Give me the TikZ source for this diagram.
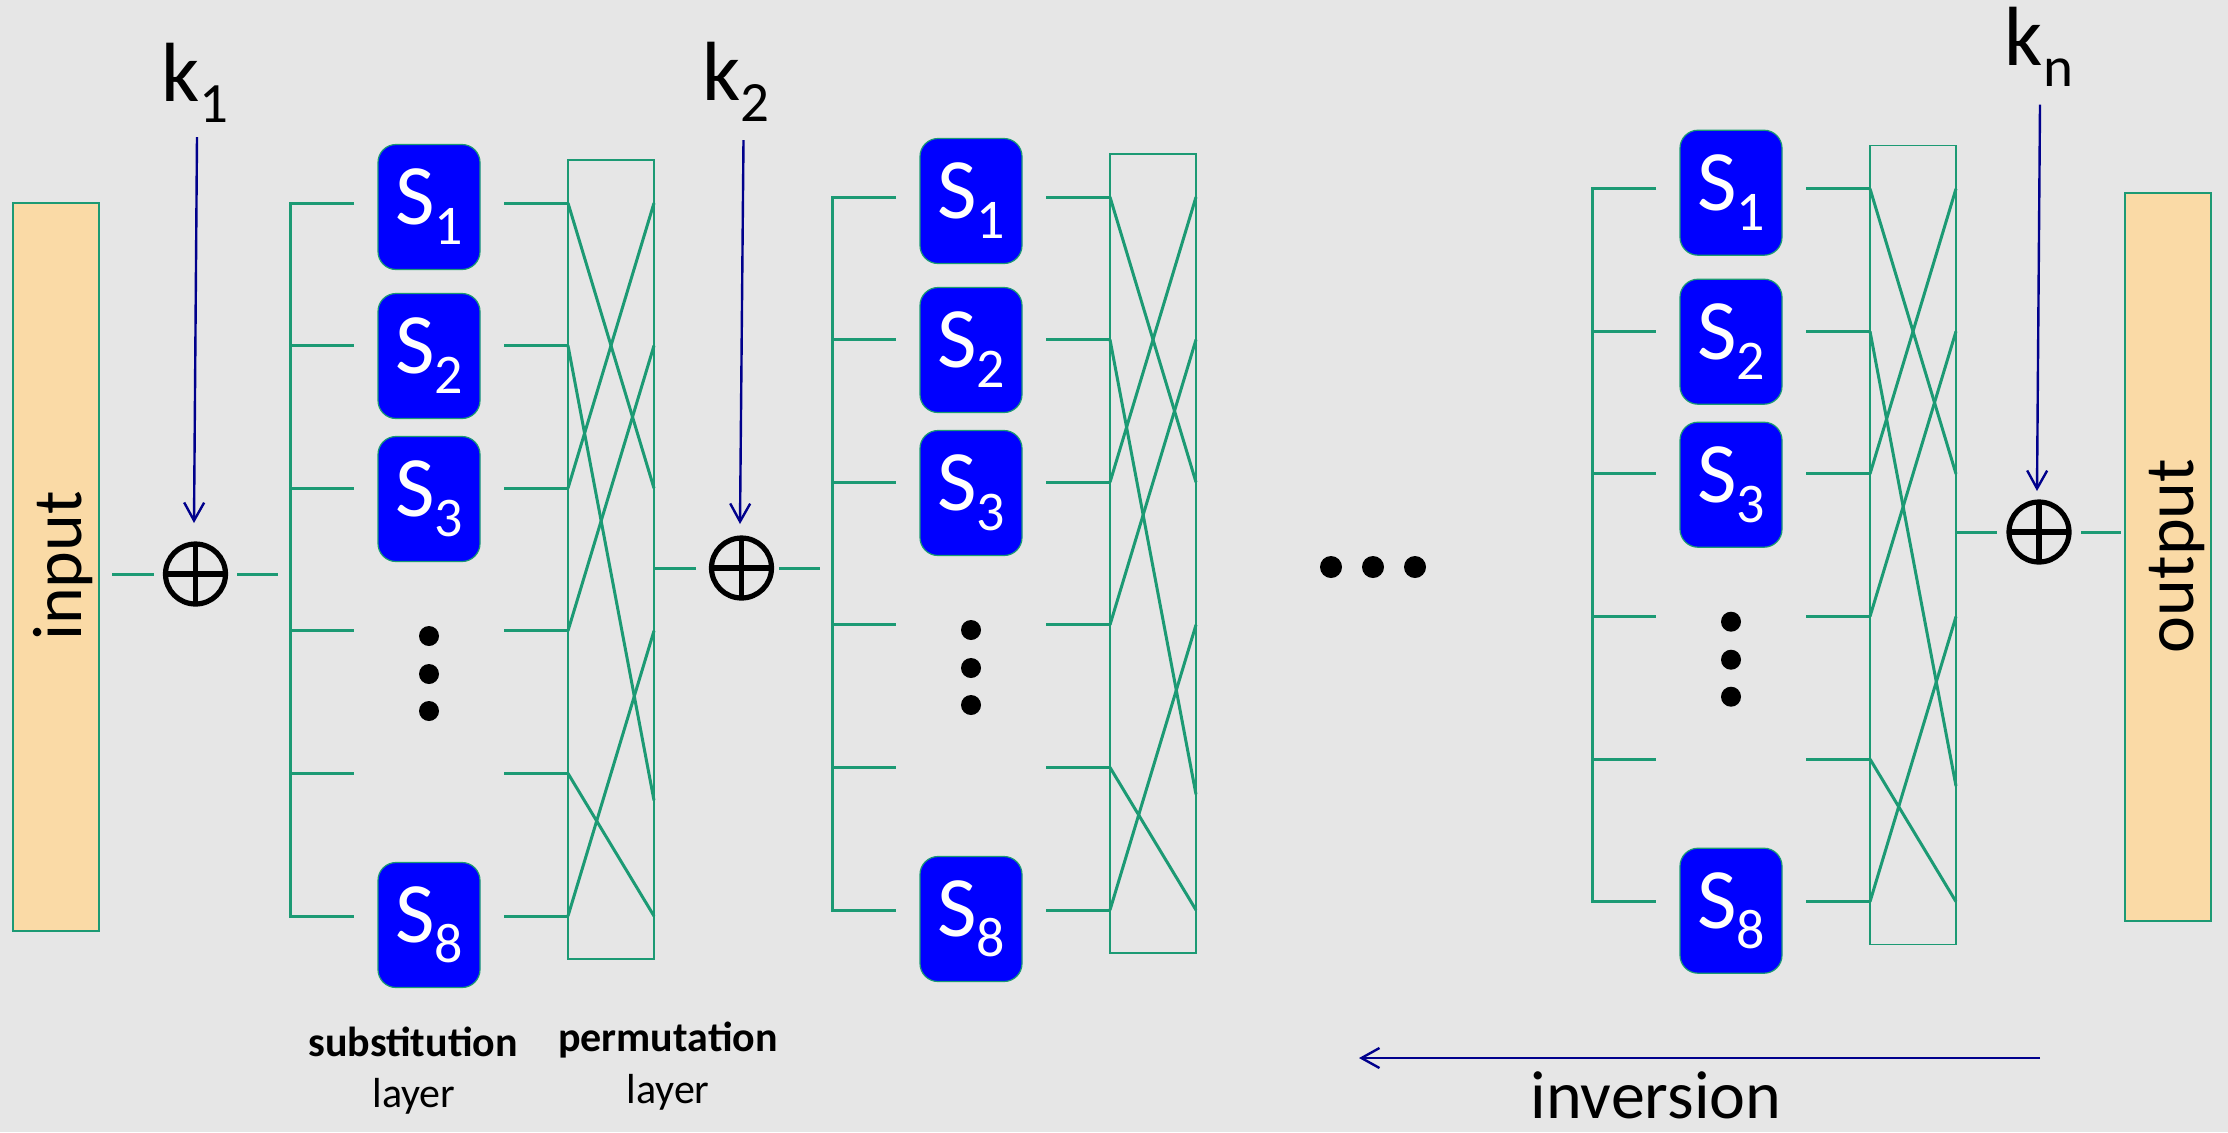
\documentclass[tikz,border=0pt]{standalone}
\usepackage{fontspec}
\setmainfont{Carlito}
\usetikzlibrary{arrows.meta}
\definecolor{bgcol}{RGB}{230,230,230}
\definecolor{wirecol}{RGB}{28,154,116}
\definecolor{sblue}{RGB}{0,0,255}
\definecolor{iofill}{RGB}{250,218,166}
\definecolor{keyblue}{RGB}{0,0,140}
\newcommand{\Slab}[1]{S\raisebox{-10pt}{\fontsize{28}{28}\selectfont #1}}
\newcommand{\Ksub}[1]{k\raisebox{-10.5pt}{\fontsize{28.5}{28.5}\selectfont #1}}
\newcommand{\spnblock}[3]{%
  \foreach \i in {1,...,6}{%
    \pgfmathsetmacro{\ry}{#3+142.6*(\i-1)}%
    \coordinate (#1bus\i) at (#2,\ry);
    \coordinate (#1in\i) at (#2+64,\ry);
    \coordinate (#1out\i) at (#2+214,\ry);
    \coordinate (#1pl\i) at (#2+278,\ry);
    \coordinate (#1pr\i) at (#2+364,\ry);
    \draw[wire] (#1out\i) -- (#1pl\i);
  }
  \draw[wire] (#1in1) -- (#1bus1) -- (#1bus6) -- (#1in6);
  \foreach \i in {2,...,5}{\draw[wire] (#1bus\i) -- (#1in\i);}
  \node[permbox] (#1perm) at (#2+321,#3+356.5) {};
  \coordinate (#1t) at (#2+364,#3+142.6*4+27);
  \draw[wire] (#1pl1) -- (#1pr3);
  \draw[wire] (#1pl2) -- (#1t);
  \draw[wire] (#1pl3) -- (#1pr1);
  \draw[wire] (#1pl4) -- (#1pr2);
  \draw[wire] (#1pl5) -- (#1pr6);
  \draw[wire] (#1pl6) -- (#1pr4);
  \node[sbox] (#1s1) at (#2+139,#3+4) {\Slab{1}};
  \node[sbox] (#1s2) at (#2+139,#3+153) {\Slab{2}};
  \node[sbox] (#1s3) at (#2+139,#3+296) {\Slab{3}};
  \node[sbox] (#1s8) at (#2+139,#3+722) {\Slab{8}};
  \node[smalldot] (#1d1) at (#2+139,#3+433) {};
  \node[smalldot] (#1d2) at (#2+139,#3+471) {};
  \node[smalldot] (#1d3) at (#2+139,#3+508) {};
}
\begin{document}
\begin{tikzpicture}[x=0.5pt,y=-0.5pt,
  wire/.style={draw=wirecol,line width=1.5pt},
  permbox/.style={draw=wirecol,line width=0.6pt,minimum width=43pt,minimum height=399.5pt,inner sep=0pt},
  iobox/.style={draw=wirecol,line width=0.6pt,fill=iofill,minimum width=43pt,minimum height=364pt,inner sep=0pt},
  iotext/.style={font=\fontsize{35}{35}\selectfont,inner sep=0pt},
  sbox/.style={draw=wirecol,line width=0.6pt,fill=sblue,rounded corners=9pt,minimum width=51pt,minimum height=62.5pt,inner sep=0pt,text=white,font=\fontsize{43}{43}\selectfont},
  xorbox/.style={circle,draw=black,line width=2.6pt,minimum size=30pt,inner sep=0pt,
    path picture={\draw[black,line width=2.6pt] (path picture bounding box.north) -- (path picture bounding box.south) (path picture bounding box.west) -- (path picture bounding box.east);}},
  keyarrow/.style={draw=keyblue,line width=1.2pt,-{Straight Barb[length=9pt,width=10pt,line width=1.2pt]}},
  keytext/.style={font=\fontsize{42}{42}\selectfont,inner sep=0pt},
  smalldot/.style={circle,fill=black,inner sep=0pt,minimum size=10pt},
  bigdot/.style={circle,fill=black,inner sep=0pt,minimum size=11pt},
  labbold/.style={font=\bfseries\fontsize{21}{21}\selectfont,inner sep=0pt},
  labreg/.style={font=\fontsize{21}{21}\selectfont,inner sep=0pt}
]
\fill[bgcol] (0,0) rectangle (2228,1132);
\useasboundingbox (0,0) rectangle (2228,1132);

% input / output
\node[iobox] (inbox) at (56,567) {};
\node[iotext,anchor=base,rotate=90] (intext) at (81,566) {input};
\node[iobox] (outbox) at (2168,557) {};
\node[iotext,anchor=base,rotate=90] (outtext) at (2193,556) {output};

% rounds
\spnblock{a}{290}{203}
\spnblock{b}{832}{197}
\spnblock{c}{1592}{188.7}

% xor nodes
\node[xorbox] (x1) at (195.5,574) {};
\node[xorbox] (x2) at (741.5,568) {};
\node[xorbox] (xn) at (2039,532) {};

% data lines around xors
\coordinate (w1a) at (112,574); \coordinate (w1b) at (154,574);
\coordinate (w1c) at (237,574); \coordinate (w1d) at (278,574);
\draw[wire] (w1a) -- (w1b);
\draw[wire] (w1c) -- (w1d);
\coordinate (w2a) at (654,568); \coordinate (w2b) at (696,568);
\coordinate (w2c) at (779,568); \coordinate (w2d) at (820,568);
\draw[wire] (w2a) -- (w2b);
\draw[wire] (w2c) -- (w2d);
\coordinate (w3a) at (1956,532); \coordinate (w3b) at (1997,532);
\coordinate (w3c) at (2081,532); \coordinate (w3d) at (2121,532);
\draw[wire] (w3a) -- (w3b);
\draw[wire] (w3c) -- (w3d);

% keys
\node[keytext,anchor=base] (k1) at (195,101) {\Ksub{1}};
\node[keytext,anchor=base] (k2) at (736,100) {\Ksub{2}};
\node[keytext,anchor=base] (kn) at (2039,65) {\Ksub{n}};
\coordinate (k1s) at (197,137); \coordinate (k1e) at (194,523);
\coordinate (k2s) at (743.5,140); \coordinate (k2e) at (740,524);
\coordinate (kns) at (2040,104.5); \coordinate (kne) at (2037,491);
\draw[keyarrow] (k1s) -- (k1e);
\draw[keyarrow] (k2s) -- (k2e);
\draw[keyarrow] (kns) -- (kne);

% ellipsis between rounds
\node[bigdot] (e1) at (1331,567) {};
\node[bigdot] (e2) at (1373,567) {};
\node[bigdot] (e3) at (1415,567) {};

% layer labels
\node[labbold,anchor=base] (subl) at (413,1056) {substitution};
\node[labreg,anchor=base] (subl2) at (414,1107) {layer};
\node[labbold,anchor=base] (perml) at (668,1051) {permutation};
\node[labreg,anchor=base] (perml2) at (668,1103) {layer};

% inversion
\coordinate (invs) at (2040,1058); \coordinate (inve) at (1359,1058);
\draw[keyarrow] (invs) -- (inve);
\node[font=\fontsize{34}{34}\selectfont,inner sep=0pt,anchor=base] (inv) at (1656,1118) {inversion};
\end{tikzpicture}
\end{document}
